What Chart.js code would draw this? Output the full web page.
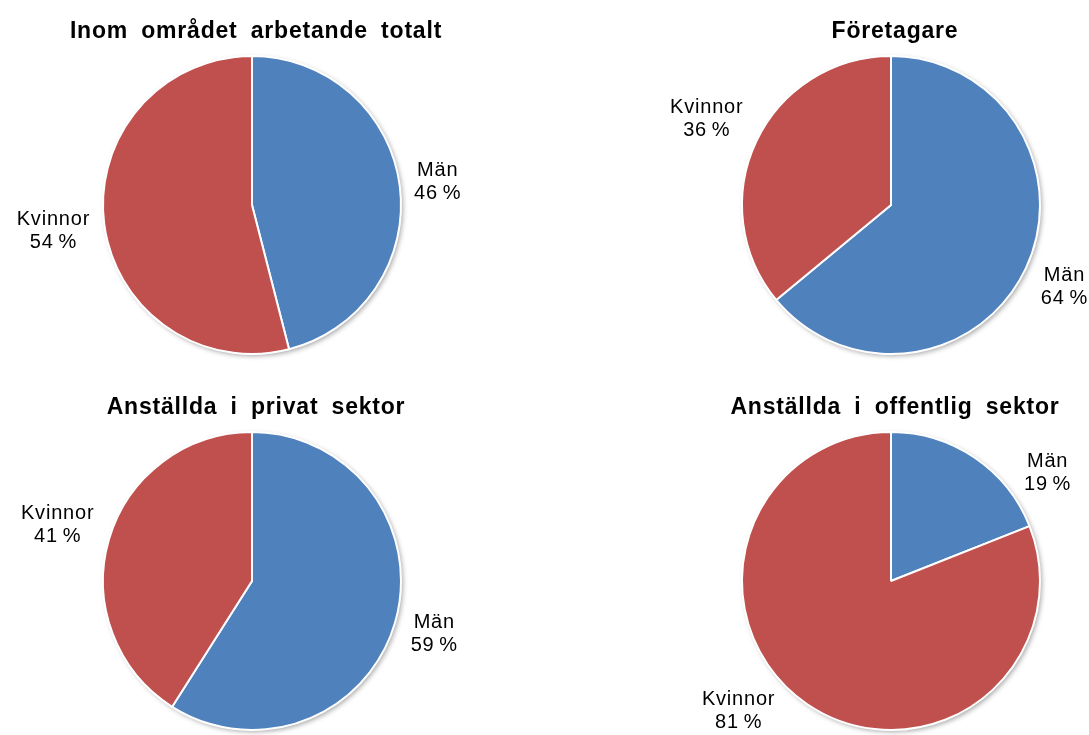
<!DOCTYPE html>
<html>
<head>
<meta charset="utf-8">
<script src="https://cdn.jsdelivr.net/npm/chart.js@4"></script>
<style>
  html, body { margin: 0; padding: 0; background: #fff; }
  body { width: 1089px; height: 735px; position: relative; overflow: hidden; }
  .box { position: absolute; width: 544px; height: 367px; }
</style>
</head>
<body>
<div class="box" style="left:0;top:0"><canvas id="c1"></canvas></div>
<div class="box" style="left:545px;top:0"><canvas id="c2"></canvas></div>
<div class="box" style="left:0;top:368px"><canvas id="c3"></canvas></div>
<div class="box" style="left:545px;top:368px"><canvas id="c4"></canvas></div>
<script>
// Data
const categories = ['Män', 'Kvinnor'];
const titles = [
    'Inom området arbetande totalt',
    'Företagare',
    'Anställda i privat sektor',
    'Anställda i offentlig sektor'
];
const totalt = [46, 54];
const foretagare = [64, 36];
const privat = [59, 41];
const offentlig = [19, 81];

const colors = ['#4F81BD', '#C0504D'];

// soft shadow behind the pie
const shadowPlugin = {
    id: 'pieShadow',
    beforeDatasetsDraw(chart) {
        const arc = chart.getDatasetMeta(0).data[0];
        if (!arc) return;
        const ctx = chart.ctx;
        ctx.save();
        ctx.shadowColor = 'rgba(0,0,0,0.35)';
        ctx.shadowBlur = 5;
        ctx.shadowOffsetX = 2;
        ctx.shadowOffsetY = 2;
        ctx.fillStyle = '#fff';
        ctx.beginPath();
        ctx.arc(arc.x, arc.y, arc.outerRadius, 0, Math.PI * 2);
        ctx.fill();
        ctx.restore();
    }
};

// labels outside the slices + title
const labelPlugin = {
    id: 'outsideLabels',
    afterDatasetsDraw(chart, args, opts) {
        const ctx = chart.ctx;
        const meta = chart.getDatasetMeta(0);
        const values = chart.data.datasets[0].data;
        ctx.save();
        ctx.fillStyle = '#000';
        ctx.font = '20px "Liberation Sans", Arial, sans-serif';
        ctx.letterSpacing = '0.8px';
        ctx.textAlign = 'center';
        ctx.textBaseline = 'middle';
        meta.data.forEach((arc, i) => {
            const r = arc.outerRadius;
            const mid = (arc.startAngle + arc.endAngle) / 2;
            const lines = [chart.data.labels[i], values[i] + '\u2009%'];
            const w = Math.max(...lines.map(l => ctx.measureText(l).width));
            const h = 44;
            const gap = 12;
            const cx = Math.cos(mid), cy = Math.sin(mid);
            const d = r + gap + (w / 2) * Math.abs(cx) + (h / 2) * Math.abs(cy);
            let dy = cy * d;
            // keep labels beside the pie, like Excel does
            dy = Math.max(-r + 40, Math.min(r - 20, dy));
            const near = Math.max(0, Math.abs(dy) - h / 2);
            const dxMin = Math.sqrt(Math.max(0, r * r - near * near)) + gap + w / 2;
            const dx = Math.sign(cx) * Math.max(Math.abs(cx * d), dxMin);
            const x = arc.x + dx;
            const y = arc.y + dy;
            ctx.fillText(lines[0], x, y - 11);
            ctx.fillText(lines[1], x, y + 12);
        });
        // title
        ctx.font = 'bold 23px "Liberation Sans", Arial, sans-serif';
        ctx.letterSpacing = '0.8px';
        ctx.wordSpacing = '6px';
        ctx.fillText(opts.text, opts.x, opts.y);
        ctx.restore();
    }
};

function createPie(id, values, title, cx, top) {
    const r = 150;
    new Chart(document.getElementById(id), {
        type: 'pie',
        data: {
            labels: categories,
            datasets: [{
                data: values,
                backgroundColor: colors,
                borderColor: '#ffffff',
                borderWidth: 2
            }]
        },
        options: {
            responsive: true,
            maintainAspectRatio: false,
            animation: false,
            events: [],
            layout: {
                padding: { left: cx - r, right: 544 - cx - r, top: top, bottom: 367 - top - 2 * r }
            },
            plugins: {
                legend: { display: false },
                tooltip: { enabled: false },
                outsideLabels: { text: title, x: cx + 4, y: top - 23 }
            }
        },
        plugins: [shadowPlugin, labelPlugin]
    });
}

createPie('c1', totalt, titles[0], 252, 55);
createPie('c2', foretagare, titles[1], 346, 55);
createPie('c3', privat, titles[2], 252, 63);
createPie('c4', offentlig, titles[3], 346, 63);
</script>
</body>
</html>
